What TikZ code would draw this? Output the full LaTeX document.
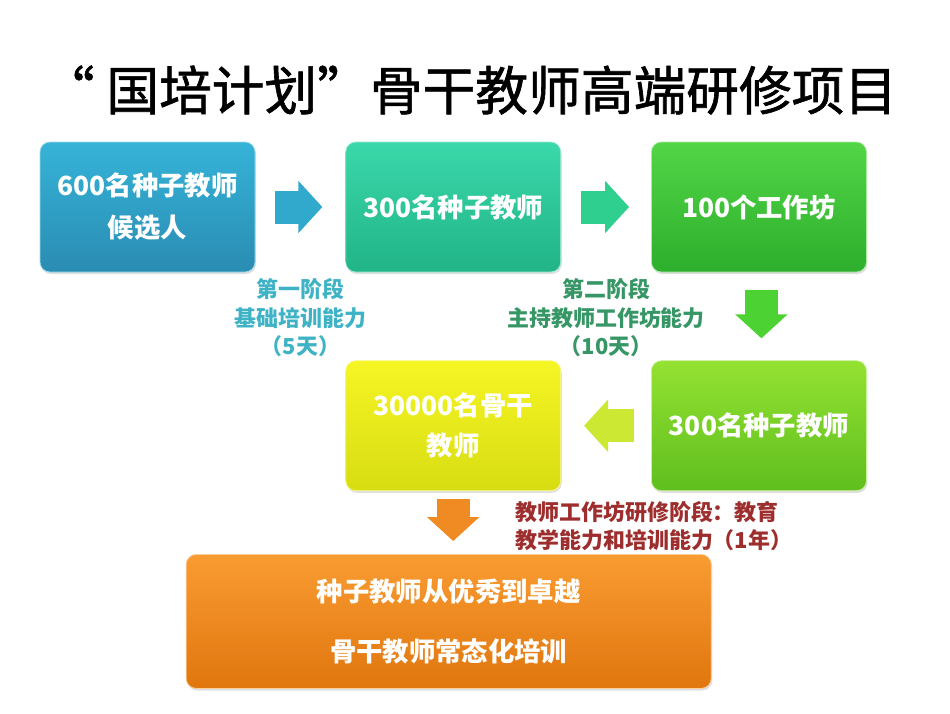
\documentclass[tikz,border=0pt]{standalone}
\usepackage{fontspec}
\setmainfont{Noto Sans CJK SC}
\newfontfamily\titlefont{Noto Sans CJK SC}[FakeBold=1.2]
\usetikzlibrary{arrows.meta,
                calc,
                positioning,
                shadows}

\definecolor{bluetop}{HTML}{36B3D8}
\definecolor{bluebot}{HTML}{2A8CB2}
\definecolor{tealtop}{HTML}{3AD8AA}
\definecolor{tealbot}{HTML}{21B487}
\definecolor{greentop}{HTML}{52D646}
\definecolor{greenbot}{HTML}{2DAE2D}
\definecolor{limetop}{HTML}{94E232}
\definecolor{limebot}{HTML}{5FBE1E}
\definecolor{yellowtop}{HTML}{F6F524}
\definecolor{yellowbot}{HTML}{D7DD12}
\definecolor{orangetop}{HTML}{F99C32}
\definecolor{orangebot}{HTML}{E0760E}
\definecolor{bluearr}{HTML}{31A9CC}
\definecolor{tealarr}{HTML}{2FD08F}
\definecolor{greenarr}{HTML}{4CD232}
\definecolor{limearr}{HTML}{CCE832}
\definecolor{orangearr}{HTML}{F08A22}
\definecolor{stageone}{HTML}{3FB3C6}
\definecolor{stagetwo}{HTML}{379665}
\definecolor{stagethree}{HTML}{9E2E2E}

\begin{document}
\begin{tikzpicture}[
        node distance=1.8cm,
        stagebox/.style={rectangle, rounded corners=0.2cm, minimum width=4.3cm, minimum height=2.6cm, text centered, align=center,
                         text=white, font=\fontsize{15}{24}\selectfont\bfseries, drop shadow={opacity=0.25, shadow xshift=0.6pt, shadow yshift=-1.2pt}},
        bluebox/.style={stagebox, top color=bluetop, bottom color=bluebot, draw=bluetop!50!white},
        tealbox/.style={stagebox, top color=tealtop, bottom color=tealbot, draw=tealtop!50!white},
        greenbox/.style={stagebox, top color=greentop, bottom color=greenbot, draw=greentop!50!white},
        limebox/.style={stagebox, top color=limetop, bottom color=limebot, draw=limetop!50!white},
        yellowbox/.style={stagebox, top color=yellowtop, bottom color=yellowbot, draw=yellowtop!50!white, font=\fontsize{15}{22.5}\selectfont\bfseries},
        orangebox/.style={stagebox, top color=orangetop, bottom color=orangebot, draw=orangetop!50!white, minimum width=10.5cm, minimum height=2.68cm, font=\fontsize{15}{34}\selectfont\bfseries},
        blockarrow/.style={line width=0.66cm, draw=#1, -{Triangle[width=1.02cm, length=0.48cm]}},
        stagenote/.style={align=center, font=\fontsize{12.5}{16.2}\selectfont\bfseries},
        titletext/.style={font=\titlefont\fontsize{30}{30}\selectfont}
        ]

        \useasboundingbox (0,0) rectangle (19,-14.26);

        % title
        \node (title) [titletext, text=black] at (9.39,-1.80) {“ 国培计划”骨干教师高端研修项目};

        % boxes
        \node (cand)   [bluebox] at (2.95,-4.14)              {600名种子教师\\候选人};
        \node (seedA)  [tealbox, right=of cand]               {300名种子教师};
        \node (shop)   [greenbox, right=of seedA]             {100个工作坊};
        \node (seedB)  [limebox, below=1.76cm of shop]        {300名种子教师};
        \node (core)   [yellowbox, left=of seedB]             {30000名骨干\\教师};
        \node (goal)   [orangebox, below=1.26cm of core, xshift=-0.09cm] {种子教师从优秀到卓越\\骨干教师常态化培训};

        % stage notes
        \node (noteA) [stagenote, text=stageone, anchor=north] at ($(cand.south east)!0.5!(seedA.south west)$)
              {第一阶段\\基础培训能力\\（5天）};
        \node (noteB) [stagenote, text=stagetwo, anchor=north] at ($(seedA.south east)!0.5!(shop.south west)$)
              {第二阶段\\主持教师工作坊能力\\（10天）};
        \node (noteC) [stagenote, text=stagethree, align=left, anchor=north west, xshift=-1.04cm, yshift=-0.08cm] at (core.south east)
              {教师工作坊研修阶段：教育\\教学能力和培训能力（1年）};

        % block arrows
        \draw [blockarrow=bluearr, shorten <=0.4cm, shorten >=0.46cm]   (cand)  -- (seedA);
        \draw [blockarrow=tealarr, shorten <=0.4cm, shorten >=0.44cm]   (seedA) -- (shop);
        \draw [blockarrow=greenarr, shorten <=0.36cm, shorten >=0.44cm] ([xshift=0.05cm]shop.south) -- ([xshift=0.05cm]seedB.north);
        \draw [blockarrow=limearr, shorten <=0.34cm, shorten >=0.46cm]  (seedB) -- (core);
        \draw [blockarrow=orangearr, shorten <=0.16cm, shorten >=0.26cm] (core.south) -- (core.south |- goal.north);

    \end{tikzpicture}
\end{document}
